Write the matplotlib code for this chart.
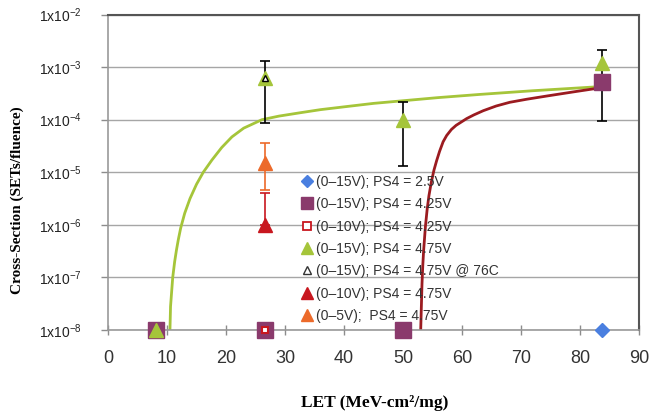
import numpy as np
import matplotlib
matplotlib.use("Agg")
import matplotlib.pyplot as plt
from matplotlib.lines import Line2D

plt.rcParams['font.family'] = ['Liberation Sans', 'DejaVu Sans']
plt.rcParams['mathtext.default'] = 'regular'

# measured points (LET in MeV-cm2/mg, cross-section)
blue_x = [83.7]
blue_y = [1e-8]
purple_x = [8.2, 26.6, 50.0, 83.7]
purple_y = [1e-8, 1e-8, 1e-8, 5.3e-4]
open_sq_x = [26.6]
open_sq_y = [1e-8]
green_x = [8.2, 26.6, 50.0, 83.7]
green_y = [1e-8, 6.3e-4, 1.0e-4, 1.2e-3]
hot_x = [26.6]
hot_y = [6.3e-4]
red_x = [26.6]
red_y = [1.0e-6]
orange_x = [26.6]
orange_y = [1.5e-5]

# error bars
err_x = [26.6, 50.0, 83.7]
err_mid = [6.3e-4, 1.0e-4, 1.2e-3]
err_lo = [8.5e-5, 1.3e-5, 9.4e-5]
err_hi = [1.32e-3, 2.15e-4, 2.1e-3]
orange_lo = [4.6e-6]
orange_hi = [3.6e-5]
red_hi = [4.0e-6]

# fit curves
fit_green_x = [10.5, 10.6, 10.8, 10.97, 11.3, 11.6, 11.92, 12.32, 13.0, 13.9, 15.0,
               16.15, 17.6, 19.27, 21.0, 23.0, 26.1, 29.0, 32.5, 36.0, 40.5, 45.0,
               50.0, 56.0, 63.0, 72.0, 83.7]
fit_green_y = [1e-8, 2.8e-8, 5.6e-8, 1e-7, 2e-7, 3.3e-7, 5.25e-7, 8.7e-7, 1.66e-6,
               3.16e-6, 5.9e-6, 1.0e-5, 1.7e-5, 2.95e-5, 4.7e-5, 6.9e-5, 1.0e-4,
               1.17e-4, 1.35e-4, 1.55e-4, 1.78e-4, 2.04e-4, 2.29e-4, 2.63e-4,
               3.02e-4, 3.55e-4, 4.27e-4]
fit_red_x = [53.0, 53.1, 53.22, 53.35, 53.5, 53.8, 54.1, 54.4, 54.8, 55.25, 55.7,
             56.2, 56.8, 57.4, 58.2, 59.0, 60.8, 62.0, 63.6, 65.8, 68.1, 71.0, 74.4,
             79.0, 84.5]
fit_red_y = [1e-8, 2.5e-8, 7.6e-8, 1.66e-7, 3.3e-7, 9.3e-7, 2.0e-6, 3.6e-6, 6.5e-6,
             1.1e-5, 1.66e-5, 2.5e-5, 3.8e-5, 5.0e-5, 6.5e-5, 7.8e-5, 1.05e-4,
             1.23e-4, 1.48e-4, 1.82e-4, 2.14e-4, 2.45e-4, 2.82e-4, 3.39e-4, 4.2e-4]

labels = ["(0\u201315V); PS4 = 2.5V",
          "(0\u201315V); PS4 = 4.25V",
          "(0\u201310V); PS4 = 4.25V",
          "(0\u201315V); PS4 = 4.75V",
          "(0\u201315V); PS4 = 4.75V @ 76C",
          "(0\u201310V); PS4 = 4.75V",
          "(0\u20135V);  PS4 = 4.75V"]

c_blue = '#4a7fe0'
c_purple = '#8a3a6c'
c_red = '#c8171f'
c_green = '#a5c53a'
c_orange = '#ec6a2a'
c_fit_red = '#9b1b20'

fig = plt.figure(figsize=(6.5, 4.16), dpi=100)
ax = fig.add_axes([108/650, 1-330/416, 531/650, 315.5/416])
ax.set_yscale('log')
ax.set_xlim(0, 90)
ax.set_ylim(1e-8, 1e-2)

ax.grid(True, axis='y', which='major', color='#a6a6a6', lw=1)
ax.set_axisbelow(True)

ax.plot(fit_green_x, fit_green_y, color=c_green, lw=2, zorder=2)
ax.plot(fit_red_x, fit_red_y, color=c_fit_red, lw=2, zorder=2)

ax.errorbar(err_x, err_mid,
            yerr=[np.array(err_mid) - np.array(err_lo), np.array(err_hi) - np.array(err_mid)],
            fmt='none', ecolor='black', elinewidth=1.2, capsize=3.5, capthick=1.2, zorder=3)
ax.errorbar(orange_x, orange_y,
            yerr=[np.array(orange_y) - np.array(orange_lo), np.array(orange_hi) - np.array(orange_y)],
            fmt='none', ecolor=c_orange, elinewidth=1.2, capsize=3.5, capthick=1.2, zorder=3)
ax.errorbar(red_x, red_y,
            yerr=[[0], np.array(red_hi) - np.array(red_y)],
            fmt='none', ecolor=c_red, elinewidth=1.2, capsize=3.5, capthick=1.2, zorder=3)

kw = dict(ls='none', clip_on=False)
ax.plot(blue_x, blue_y, marker='D', ms=7, color=c_blue, mec=c_blue, zorder=4, **kw)
ax.plot(purple_x, purple_y, marker='s', ms=11, color=c_purple, mec=c_purple, zorder=4, **kw)
ax.plot(open_sq_x, open_sq_y, marker='s', ms=5, mfc='white', mec=c_red, mew=1.5, zorder=5, **kw)
ax.plot(green_x, green_y, marker='^', ms=10.5, color=c_green, mec=c_green, zorder=4, **kw)
ax.plot(hot_x, hot_y, marker='^', ms=5, mfc='white', mec='black', mew=1, zorder=5, **kw)
ax.plot(red_x, red_y, marker='^', ms=10.5, color=c_red, mec=c_red, zorder=4, **kw)
ax.plot(orange_x, orange_y, marker='^', ms=10.5, color=c_orange, mec=c_orange, zorder=4, **kw)

handles = [
    Line2D([], [], ls='none', marker='D', ms=6, color=c_blue),
    Line2D([], [], ls='none', marker='s', ms=8, color=c_purple),
    Line2D([], [], ls='none', marker='s', ms=6, mfc='white', mec=c_red, mew=1.3),
    Line2D([], [], ls='none', marker='^', ms=8, color=c_green),
    Line2D([], [], ls='none', marker='^', ms=5.5, mfc='white', mec='#333333', mew=1),
    Line2D([], [], ls='none', marker='^', ms=8, color=c_red),
    Line2D([], [], ls='none', marker='^', ms=8, color=c_orange),
]
leg = ax.legend(handles, labels, loc='upper left', bbox_to_anchor=(301/650, 1-175/416),
                bbox_transform=fig.transFigure, frameon=False, fontsize=10,
                handlelength=0.9, handletextpad=0.2, labelspacing=0.6, borderpad=0,
                borderaxespad=0)
for t in leg.get_texts():
    t.set_color('#333333')

ax.set_xticks(np.arange(0, 91, 10))
ax.set_yticks([1e-8, 1e-7, 1e-6, 1e-5, 1e-4, 1e-3, 1e-2])
ax.set_yticklabels([r'1x10$^{%d}$' % e for e in range(-8, -1)])
ax.minorticks_off()
ax.tick_params(axis='x', direction='inout', length=7, width=1, color='#8c8c8c',
               labelsize=13, pad=11, labelcolor='#333333')
ax.tick_params(axis='y', direction='out', length=5, width=1, color='#8c8c8c',
               labelsize=10, pad=14, labelcolor='#222222')

for s in ['left', 'bottom']:
    ax.spines[s].set_color('#999999')
    ax.spines[s].set_linewidth(1.2)
for s in ['top', 'right']:
    ax.spines[s].set_color('#555555')
    ax.spines[s].set_linewidth(1.5)

fig.text(17/650, 1-200/416, 'Cross-Section (SETs/fluence)', rotation=90,
         ha='center', va='center', fontsize=11, fontweight='bold',
         family='Liberation Serif')
fig.text(375/650, 1-403/416, 'LET (MeV-cm\u00b2/mg)', ha='center', va='center',
         fontsize=12.5, fontweight='bold', family='Liberation Serif')

fig.savefig('out.png', dpi=100)
